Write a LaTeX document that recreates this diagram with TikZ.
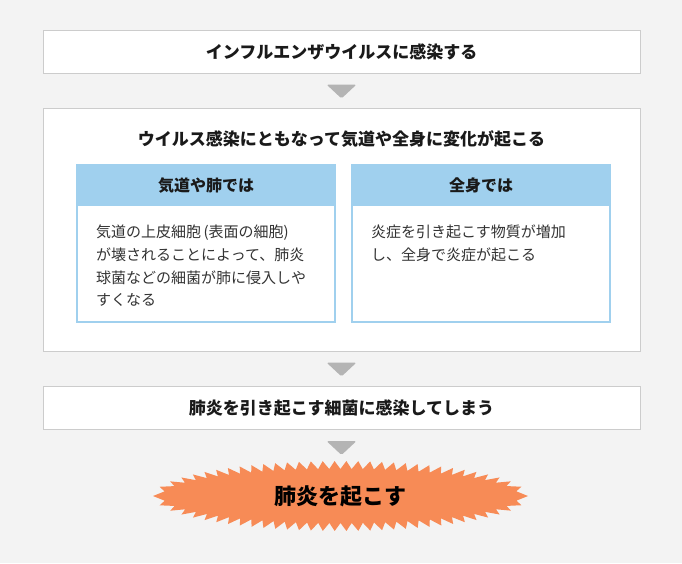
\documentclass[tikz,border=0pt]{standalone}
\usepackage{fontspec}
\setmainfont{Noto Sans CJK JP}
\usetikzlibrary{calc,decorations.markings}
\definecolor{bgc}{HTML}{F3F3F3}
\definecolor{boxline}{HTML}{CCCCCC}
\definecolor{headblue}{HTML}{A0D0EE}
\definecolor{arrowgray}{HTML}{B4B4B4}
\definecolor{burst}{HTML}{F78B56}
\definecolor{titletext}{HTML}{1A1A1A}
\definecolor{bodytext}{HTML}{333333}
\newcommand{\lpar}{\makebox[0.5em][r]{(}}
\newcommand{\rpar}{\makebox[0.5em][l]{)}}
\tikzset{
  stagebox/.style={draw=boxline, line width=1pt, fill=white, minimum width=597pt, inner sep=0pt},
  titletxt/.style={font=\fontsize{17}{20}\bfseries\selectfont, text=titletext, inner sep=0pt},
  subbox/.style={draw=headblue, line width=2pt, fill=white, minimum width=258pt, minimum height=156pt, inner sep=0pt},
  subhead/.style={fill=headblue, minimum width=260pt, minimum height=42pt, inner sep=0pt},
  headtxt/.style={font=\fontsize{16}{19}\bfseries\selectfont, text=titletext, inner sep=0pt},
  bodytxt/.style={font=\fontsize{15}{22.7}\selectfont, text=bodytext, align=left, inner sep=0pt, anchor=north west},
  downarrow/.style={fill=arrowgray, rounded corners=1.5pt},
}
\begin{document}
\begin{tikzpicture}[x=1pt,y=-1pt]
\fill[bgc] (0,0) rectangle (682,563);
\useasboundingbox (0,0) rectangle (682,563);

% box 1
\node[stagebox, minimum height=43pt] (b1) at (341.5,51.5) {};
\node[titletxt] (t1) at (b1.center) {インフルエンザウイルスに感染する};

% box 2
\node[stagebox, minimum height=243pt] (b2) at (341.5,229.5) {};
\node[titletxt] (t2) at (341.5,139) {ウイルス感染にともなって気道や全身に変化が起こる};

\node[subbox] (l) at (206,244) {};
\node[subhead, anchor=north] (lh) at ($(l.north)+(0,-1)$) {};
\node[headtxt] (lht) at (lh.center) {気道や肺では};
\node[bodytxt] (lb) at (96,225) {気道の上皮細胞\lpar 表面の細胞\rpar\\が壊されることによって、肺炎\\球菌などの細菌が肺に侵入しや\\すくなる};

\node[subbox] (r) at (481,244) {};
\node[subhead, anchor=north] (rh) at ($(r.north)+(0,-1)$) {};
\node[headtxt] (rht) at (rh.center) {全身では};
\node[bodytxt] (rb) at (371,225) {炎症を引き起こす物質が増加\\し、全身で炎症が起こる};

% box 3
\node[stagebox, minimum height=43pt] (b3) at (341.5,408) {};
\node[titletxt] (t3) at (b3.center) {肺炎を引き起こす細菌に感染してしまう};

% burst: tips on an outer ellipse, valleys on an inner one, equally spaced along the outline
\coordinate (bc) at (340.5,496);
\path[decorate, decoration={markings,
  mark=between positions 0 and 0.995 step 0.0151515 with
    {\coordinate (so\pgfkeysvalueof{/pgf/decoration/mark info/sequence number});}}]
  (bc) ellipse [x radius=187.5pt, y radius=35pt];
\path[decorate, decoration={markings,
  mark=between positions 0.0075758 and 0.999 step 0.0151515 with
    {\coordinate (si\pgfkeysvalueof{/pgf/decoration/mark info/sequence number});}}]
  (bc) ellipse [x radius=178.5pt, y radius=27pt];
\fill[burst] (so1) \foreach \k in {1,...,66} { -- (so\k) -- (si\k) } -- cycle;
\node[font=\fontsize{22}{26}\bfseries\selectfont, text=black, inner sep=0pt] (bt) at (bc) {肺炎を起こす};

% arrows
\fill[downarrow] ($(b1.south)+(-15,11)$) -- ($(b1.south)+(15,11)$) -- ($(b1.south)+(0,25)$) -- cycle;
\fill[downarrow] ($(b2.south)+(-15,11)$) -- ($(b2.south)+(15,11)$) -- ($(b2.south)+(0,25)$) -- cycle;
\fill[downarrow] ($(b3.south)+(-15,11)$) -- ($(b3.south)+(15,11)$) -- ($(b3.south)+(0,25)$) -- cycle;
\end{tikzpicture}
\end{document}
